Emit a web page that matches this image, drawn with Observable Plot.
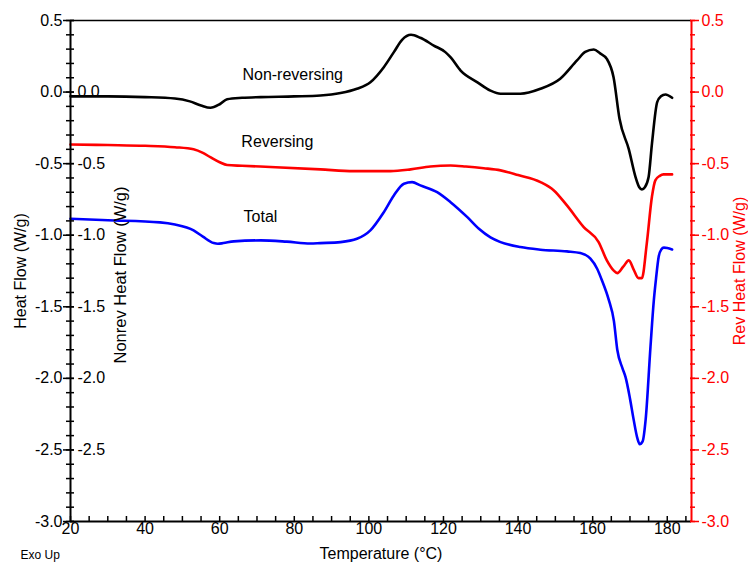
<!DOCTYPE html>
<html>
<head>
<meta charset="utf-8">
<script src="https://cdn.jsdelivr.net/npm/d3@7"></script>
<script src="https://cdn.jsdelivr.net/npm/@observablehq/plot@0.6"></script>
<style>
  body { margin: 0; background: #fff; }
</style>
</head>
<body>
<div id="chart"></div>
<script>
// ---- Data ----
const nonrevT = [20, 30, 40, 48, 52, 55, 57.5, 60, 62, 66, 71, 80, 87, 92.4, 96.8, 100.4, 104, 106.7, 108.9, 111.3, 113.8, 117.4, 120.5, 122, 124.6, 129, 132.6, 135.3, 140.6, 146, 151.3, 155.8, 158, 160.3, 162, 163.8, 165.6, 167.2, 169.7, 171.5, 172.5, 173.2, 174, 175, 175.9, 177.3, 178.3, 179.5, 181.3];
const nonrevV = [-0.03, -0.03, -0.035, -0.045, -0.065, -0.094, -0.11, -0.085, -0.05, -0.04, -0.035, -0.03, -0.024, -0.007, 0.023, 0.069, 0.174, 0.279, 0.365, 0.40, 0.379, 0.325, 0.279, 0.24, 0.15, 0.07, 0.01, -0.012, -0.012, 0.023, 0.093, 0.221, 0.28, 0.297, 0.27, 0.232, 0.104, -0.187, -0.40, -0.594, -0.665, -0.68, -0.665, -0.594, -0.36, -0.07, -0.03, -0.017, -0.04];

const revT = [20, 30, 40, 48, 53, 55.5, 57.5, 60, 62, 66, 75, 87, 95.9, 105.8, 111.2, 116.5, 121.9, 126, 130.8, 135.3, 140, 146, 149.6, 153.1, 157.6, 161.6, 163.8, 165.6, 166.6, 168.2, 169.7, 171, 172.3, 173.2, 174.5, 175.9, 176.8, 178, 179, 181.3];
const revV = [-0.366, -0.37, -0.375, -0.385, -0.40, -0.425, -0.455, -0.49, -0.51, -0.515, -0.525, -0.54, -0.552, -0.552, -0.54, -0.52, -0.513, -0.52, -0.532, -0.547, -0.58, -0.629, -0.687, -0.792, -0.943, -1.048, -1.176, -1.246, -1.265, -1.22, -1.176, -1.24, -1.30, -1.30, -1.06, -0.73, -0.617, -0.585, -0.575, -0.575];

const totalT = [20, 30, 44, 48, 53, 55.5, 58.4, 59.5, 61, 63.8, 71, 78, 84.3, 87, 92.4, 96.8, 100.4, 104, 106.7, 109.4, 111.6, 113.8, 118.3, 121.9, 126.4, 129.5, 132.6, 135.3, 140.6, 146, 153.1, 156.7, 159.4, 161.2, 162.5, 164.3, 165.7, 166.6, 168, 168.8, 170, 171, 172, 172.6, 173.4, 174.2, 175.5, 176.4, 177, 177.7, 178.4, 179.1, 180, 181.3];
const totalV = [-0.885, -0.895, -0.91, -0.925, -0.966, -1.01, -1.055, -1.06, -1.055, -1.043, -1.036, -1.045, -1.058, -1.055, -1.048, -1.025, -0.966, -0.839, -0.722, -0.64, -0.629, -0.652, -0.699, -0.769, -0.874, -0.955, -1.015, -1.048, -1.083, -1.101, -1.113, -1.125, -1.164, -1.234, -1.316, -1.45, -1.6, -1.8, -1.93, -1.99, -2.14, -2.29, -2.42, -2.46, -2.44, -2.29, -1.78, -1.455, -1.3, -1.15, -1.1, -1.087, -1.09, -1.10];

const seriesNames = ["Non-reversing", "Reversing", "Total"];
const xMajorTicks = [20, 40, 60, 80, 100, 120, 140, 160, 180];
const xMinorTicks = d3.range(20, 186, 5);
const yMajorTicks = [0.5, 0, -0.5, -1, -1.5, -2, -2.5, -3];
const yMinorTicks = d3.range(-30, 6).map(d => d / 10);
const nonrevTickLabels = [0, -0.5, -1, -1.5, -2, -2.5];
const xTitle = "Temperature (°C)";
const yLeftTitle = "Heat Flow (W/g)";
const yInnerTitle = "Nonrev Heat Flow (W/g)";
const yRightTitle = "Rev Heat Flow (W/g)";
const cornerNote = "Exo Up";

// ---- Build tables ----
const toRows = (T, V) => T.map((t, i) => ({t, v: V[i]}));
const nonrev = toRows(nonrevT, nonrevV);
const rev = toRows(revT, revV);
const total = toRows(totalT, totalV);

const fmt = d => (Math.abs(d) < 1e-9 ? 0 : d).toFixed(1);
const xMax = 186.5;

const W = 748, H = 562, mT = 20, mB = 41, mL = 70, mR = 57;
const frameW = W - mL - mR;   // pixel width of plot frame
const frameH = H - mT - mB;   // pixel height of plot frame

const chart = Plot.plot({
  width: W,
  height: H,
  marginTop: mT,
  marginBottom: mB,
  marginLeft: mL,
  marginRight: mR,
  x: {domain: [20, xMax], axis: null},
  y: {domain: [-3, 0.5], axis: null},
  style: {
    fontFamily: "'Liberation Sans', Arial, sans-serif",
    fontSize: "16px",
    background: "#fff",
    color: "black",
    overflow: "visible"
  },
  marks: [
    // top frame line
    Plot.ruleY([0.5], {stroke: "black", strokeWidth: 1.5}),
    // curves
    Plot.line(nonrev, {x: "t", y: "v", stroke: "black", strokeWidth: 2.6, curve: "monotone-x"}),
    Plot.line(rev, {x: "t", y: "v", stroke: "#ff0000", strokeWidth: 2.6, curve: "monotone-x"}),
    Plot.line(total, {x: "t", y: "v", stroke: "#0000ff", strokeWidth: 2.6, curve: "monotone-x"}),
    // left axis line + crossing ticks
    Plot.ruleX([20], {stroke: "black", strokeWidth: 2}),
    Plot.tickY(yMinorTicks, {y: d => d, stroke: "black", strokeWidth: 1.5, insetLeft: -4, insetRight: frameW - 4}),
    Plot.tickY(yMajorTicks, {y: d => d, stroke: "black", strokeWidth: 1.5, insetLeft: -7, insetRight: frameW - 4}),
    Plot.text(yMajorTicks, {y: d => d, frameAnchor: "left", dx: -8, text: fmt, textAnchor: "end"}),
    // inner nonrev labels
    Plot.text(nonrevTickLabels, {y: d => d, frameAnchor: "left", dx: 7, text: fmt, textAnchor: "start"}),
    // bottom axis
    Plot.ruleY([-3], {stroke: "black", strokeWidth: 2}),
    Plot.tickX(xMinorTicks, {x: d => d, stroke: "black", strokeWidth: 1.5, insetTop: frameH - 5}),
    Plot.text(xMajorTicks, {x: d => d, frameAnchor: "bottom", lineAnchor: "top", dy: 1, text: d => String(d)}),
    // right axis (red)
    Plot.ruleX([xMax], {stroke: "#ff0000", strokeWidth: 2}),
    Plot.tickY(yMinorTicks, {y: d => d, stroke: "#ff0000", strokeWidth: 1.5, insetLeft: frameW - 1, insetRight: -4}),
    Plot.tickY(yMajorTicks, {y: d => d, stroke: "#ff0000", strokeWidth: 1.5, insetLeft: frameW - 1, insetRight: -8}),
    Plot.text(yMajorTicks, {y: d => d, frameAnchor: "right", dx: 10, text: fmt, textAnchor: "start", fill: "#ff0000"}),
    // series labels
    Plot.text(seriesNames, {x: [66.1, 65.8, 66.4], y: [0.12, -0.345, -0.87], text: d => d, textAnchor: "start", fill: "black"}),
    // titles
    Plot.text([yLeftTitle], {frameAnchor: "left", dx: -50, rotate: -90, text: d => d, textAnchor: "middle"}),
    Plot.text([yInnerTitle], {frameAnchor: "left", dx: 50, dy: 4, rotate: -90, text: d => d, textAnchor: "middle", fontSize: 16.5}),
    Plot.text([yRightTitle], {frameAnchor: "right", dx: 48, rotate: -90, text: d => d, textAnchor: "middle", fill: "#ff0000"}),
    Plot.text([xTitle], {frameAnchor: "bottom", lineAnchor: "middle", dy: 32, text: d => d}),
    Plot.text([cornerNote], {frameAnchor: "bottom-left", lineAnchor: "middle", dx: -50, dy: 34, text: d => d, textAnchor: "start", fontSize: 12})
  ]
});
document.getElementById("chart").appendChild(chart);
</script>
</body>
</html>
